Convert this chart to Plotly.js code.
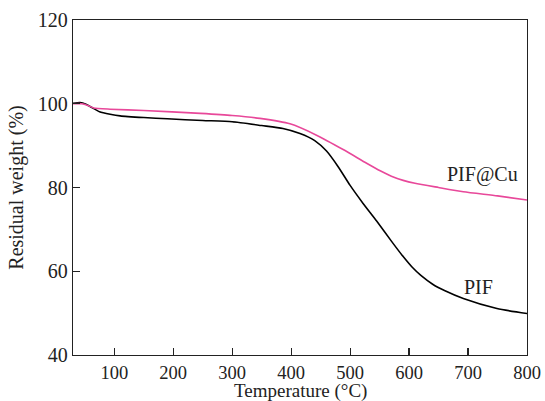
<!DOCTYPE html>
<html><head><meta charset="utf-8">
<script src="https://cdn.plot.ly/plotly-3.0.1.min.js"></script>
<style>html,body{margin:0;padding:0;background:#fff;}#chart{width:545px;height:401px;}</style>
</head><body><div id="chart"></div>
<script>
var pifX = [30, 42, 52, 62, 75, 93, 110, 150, 190, 250, 300, 350, 386, 415, 440, 460, 480, 500, 522, 545, 570, 590, 605, 620, 640, 660, 692, 749, 800];
var pifY = [100.1, 100.3, 99.9, 99.1, 98.1, 97.5, 97.1, 96.7, 96.4, 96.0, 95.7, 94.8, 94.1, 92.9, 91.2, 88.7, 84.9, 80.5, 76.2, 72.0, 67.2, 63.5, 61.0, 59.0, 56.9, 55.4, 53.5, 51.1, 49.9];
var cuX = [30, 45, 55, 65, 93, 150, 246, 300, 347, 398, 443, 489, 528, 551, 570, 590, 610, 650, 692, 750, 800];
var cuY = [100.0, 100.0, 99.6, 99.0, 98.7, 98.4, 97.7, 97.2, 96.5, 95.2, 92.5, 89.0, 85.8, 84.0, 82.7, 81.7, 81.0, 80.0, 79.0, 78.0, 77.0];
var xTicks = [100, 200, 300, 400, 500, 600, 700, 800];
var yTicks = [40, 60, 80, 100, 120];
var xTitle = 'Temperature (°C)';
var yTitle = 'Residual weight (%)';
var labels = [
  {name: 'PIF', x: 717, y: 56.2},
  {name: 'PIF@Cu', x: 724, y: 83}
];
var font = "'Liberation Serif', 'Times New Roman', Times, serif";
var traces = [
  {x: pifX, y: pifY, mode: 'lines', line: {color: '#000000', width: 1.6, shape: 'spline', smoothing: 0.6}, hoverinfo: 'skip'},
  {x: cuX, y: cuY, mode: 'lines', line: {color: '#e8489a', width: 1.6, shape: 'spline', smoothing: 0.6}, hoverinfo: 'skip'}
];
var axisCommon = {showgrid: false, zeroline: false, showline: true, linecolor: '#222', linewidth: 1.3, mirror: true, ticks: 'inside', ticklen: 7, tickwidth: 1.2, tickcolor: '#222', tickfont: {family: font, size: 20, color: '#222'}};
var annots = labels.map(function(l){ return {x: l.x, y: l.y, xref: 'x', yref: 'y', text: l.name, showarrow: false, font: {family: font, size: 20, color: '#222'}}; });
annots.push({x: 0.5, y: -0.108, xref: 'paper', yref: 'paper', xanchor: 'center', yanchor: 'middle', text: xTitle, showarrow: false, font: {family: font, size: 19, color: '#222'}});
var layout = {
  width: 545, height: 401,
  margin: {l: 72.5, r: 18, t: 20, b: 46},
  paper_bgcolor: '#fff', plot_bgcolor: '#fff',
  showlegend: false,
  font: {family: font, color: '#222'},
  xaxis: Object.assign({}, axisCommon, {range: [30, 800], tickvals: xTicks, ticktext: xTicks.map(String), tickfont: {family: font, size: 18.5, color: '#222'}}),
  yaxis: Object.assign({}, axisCommon, {range: [40, 120], tickvals: yTicks, ticktext: yTicks.map(String), title: {text: yTitle, font: {family: font, size: 20, color: '#222'}, standoff: 8}}),
  annotations: annots
};
Plotly.newPlot('chart', traces, layout, {staticPlot: true, displayModeBar: false});
</script></body></html>
